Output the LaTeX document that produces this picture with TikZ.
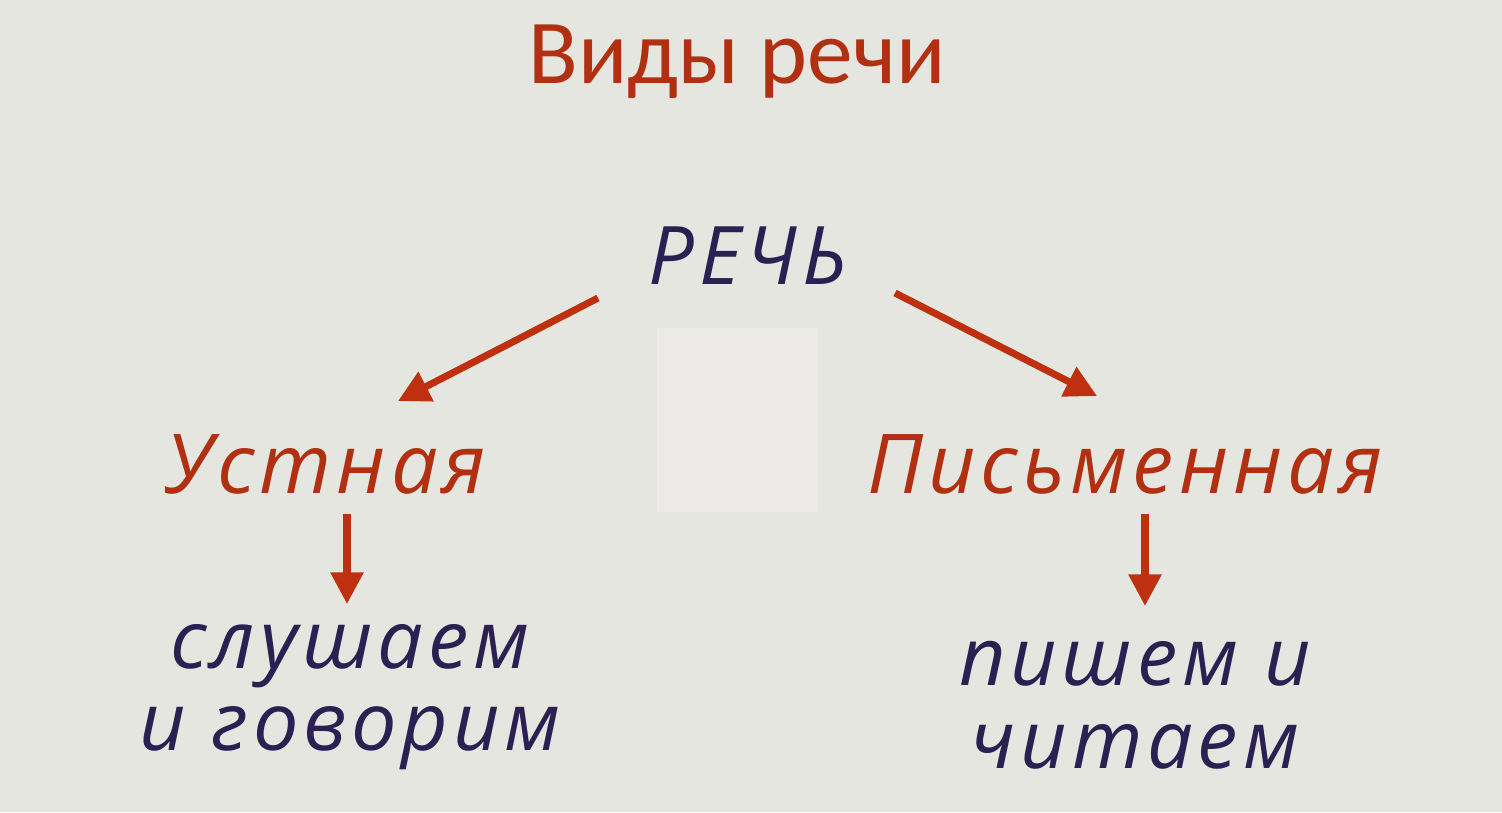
\documentclass[tikz,border=0pt]{standalone}
\usepackage{fontspec}
\setmainfont{Carlito}
\newfontfamily\slidefont[LetterSpace=6]{Open Sans}
\usepackage{tikz}
\usetikzlibrary{arrows.meta,calc}
\definecolor{figback}{RGB}{230,230,224}
\definecolor{figpale}{RGB}{235,234,231}
\definecolor{figred}{RGB}{178,48,18}
\definecolor{figarr}{RGB}{190,48,16}
\definecolor{figink}{RGB}{42,32,82}
\tikzset{
  ttl/.style ={font=\fontsize{52}{56}\selectfont, text=figred, inner sep=1pt},
  kind/.style ={font=\slidefont\fontsize{47}{50}\selectfont\itshape, text=figred, inner sep=1pt},
  word/.style ={font=\slidefont\fontsize{46}{50}\selectfont\itshape, text=figink, inner sep=1pt},
  act/.style  ={font=\slidefont\fontsize{46}{47}\selectfont\itshape, text=figink, inner sep=1pt, align=center},
  ptr/.style  ={draw=figarr, line width=4pt, -{Triangle[length=18pt,width=18pt]}},
}
\begin{document}
\begin{tikzpicture}[x=0.02cm,y=-0.02cm]
  \fill[figback] (0,0) rectangle (1502,812);
  \useasboundingbox (0,0) rectangle (1502,812);
  \fill[figpale] (657,328) rectangle (818,512);
  % heading
  \node[ttl] (title) at (737,62) {Виды речи};
  \node[word] (rech) at (748,256) {РЕЧЬ};
  \node[kind] (ustn) at (326,464) {Устная};
  \node[kind] (pism) at (1125,464) {Письменная};
  \node[act] (slush) at (350,697) {слушаем\\и говорим};
  \node[act] (pish) at (1135,705) {пишем и\\читаем};
  % arrow ends
  \coordinate (l0) at (598,298);
  \coordinate (l1) at (398,401);
  \coordinate (r0) at (895,293);
  \coordinate (r1) at (1097,396);
  \coordinate (ul0) at (347,514);
  \coordinate (ul1) at (347,604);
  \coordinate (pr0) at (1145,514);
  \coordinate (pr1) at (1145,606);
  \draw[ptr] (l0) -- (l1);
  \draw[ptr] (r0) -- (r1);
  \draw[ptr] (ul0) -- (ul1);
  \draw[ptr] (pr0) -- (pr1);
\end{tikzpicture}
\end{document}
